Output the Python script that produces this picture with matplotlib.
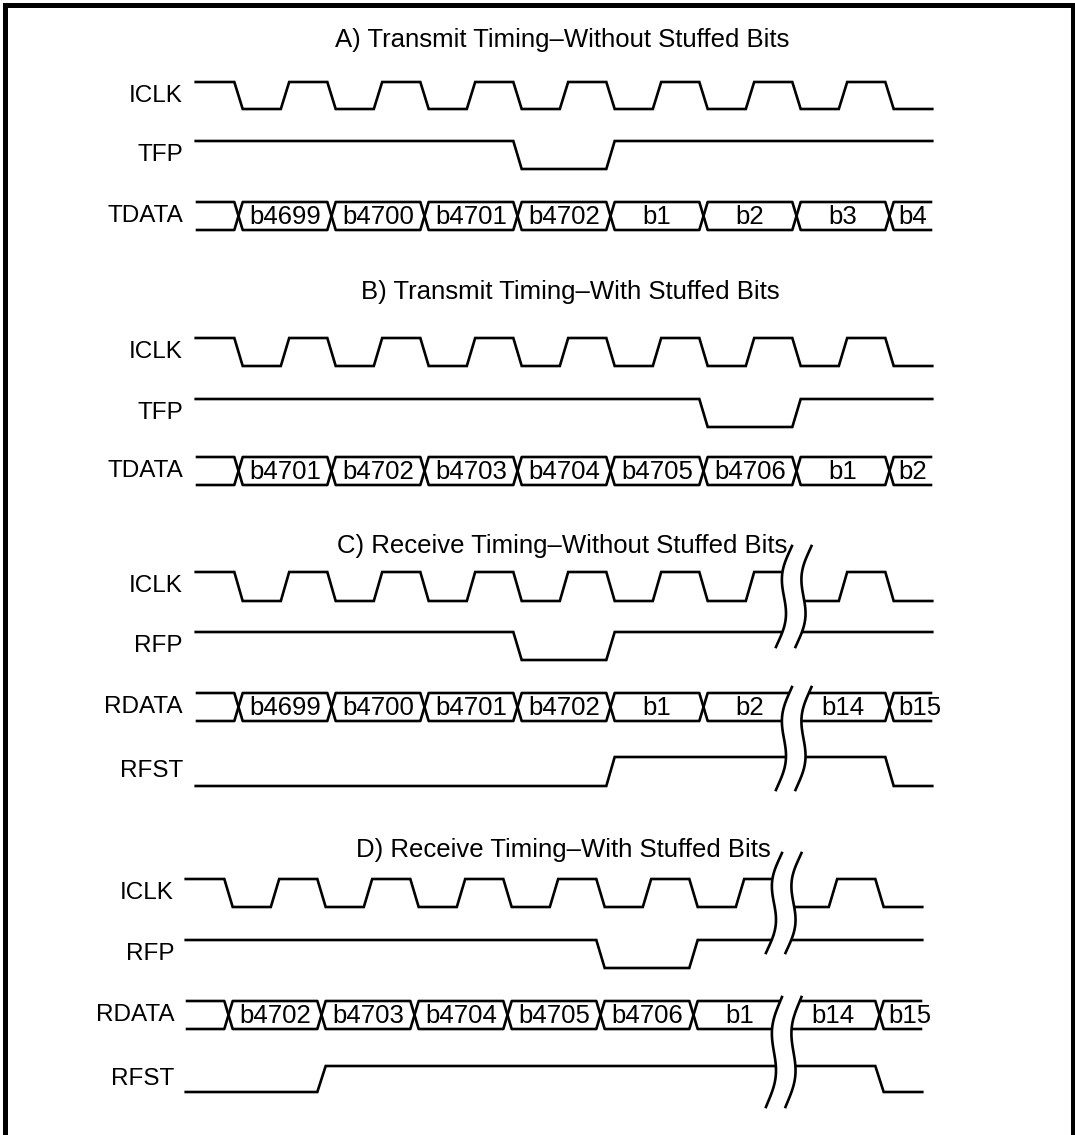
import matplotlib.pyplot as plt
import numpy as np
from matplotlib.patches import Polygon

plt.rcParams['font.family'] = ['Liberation Sans', 'DejaVu Sans']

# ── Diagram content (times in clock periods) ──────────────────────
TITLES = ['A) Transmit Timing–Without Stuffed Bits',
          'B) Transmit Timing–With Stuffed Bits',
          'C) Receive Timing–Without Stuffed Bits',
          'D) Receive Timing–With Stuffed Bits']

CLK_EDGES = [0.5, 1.0, 1.5, 2.0, 2.5, 3.0, 3.5, 4.0,
             4.5, 5.0, 5.5, 6.0, 6.5, 7.0, 7.5]      # starts high
BUS_EDGES = [0.5, 1.5, 2.5, 3.5, 4.5, 5.5, 6.5, 7.5]

TFP_A = [3.5, 4.5]          # starts high
TFP_B = [5.5, 6.5]
RFP_C = [3.5, 4.5]
RFP_D = [4.5, 5.5]
RFST_C = [4.5, 7.5]         # starts low
RFST_D = [1.5, 7.5]

TDATA_A = ['b4699', 'b4700', 'b4701', 'b4702', 'b1', 'b2', 'b3', 'b4']
TDATA_B = ['b4701', 'b4702', 'b4703', 'b4704', 'b4705', 'b4706', 'b1', 'b2']
RDATA_C = ['b4699', 'b4700', 'b4701', 'b4702', 'b1', 'b2', 'b14', 'b15']
RDATA_D = ['b4702', 'b4703', 'b4704', 'b4705', 'b4706', 'b1', 'b14', 'b15']

BREAK_T = 6.47              # where the time axis is cut in C and D

# ── Layout (pixels) ───────────────────────────────────────────────
W, H = 1075, 1135
X0, P = 192, 93             # pixel of t=0, pixels per clock period
T_START, T_END = 0.04, 7.96
EW = 0.09                   # edge width
LW = 1.9
FS_TITLE = 18.5
FS_NAME = 17.5
FS_BOX = 18.5

fig = plt.figure(figsize=(W / 100, H / 100), dpi=100)
ax = fig.add_axes([0, 0, 1, 1])
ax.set_xlim(0, W)
ax.set_ylim(H, 0)
ax.axis('off')


def px(t, dx):
    return X0 + dx + t * P


def level_signal(y_hi, y_lo, start_high, edges, dx):
    lvl = start_high
    xs, ys = [px(T_START, dx)], [y_hi if lvl else y_lo]
    for e in edges:
        xs += [px(e - EW / 2, dx), px(e + EW / 2, dx)]
        ys += [y_hi if lvl else y_lo, y_lo if lvl else y_hi]
        lvl = not lvl
    xs.append(px(T_END, dx))
    ys.append(y_hi if lvl else y_lo)
    ax.plot(xs, ys, color='black', lw=LW, solid_joinstyle='miter')


def bus(y_top, y_bot, edges, labels, dx):
    ym = (y_top + y_bot) / 2
    bounds = [T_START] + edges + [T_END]
    last = len(bounds) - 2
    for i in range(len(bounds) - 1):
        a, b = bounds[i], bounds[i + 1]
        for y in (y_top, y_bot):
            if i == 0:
                xs, ys = [px(a, dx)], [y]
            else:
                xs, ys = [px(a, dx), px(a + EW / 2, dx)], [ym, y]
            if i == last:
                xs.append(px(b, dx))
                ys.append(y)
            else:
                xs += [px(b - EW / 2, dx), px(b, dx)]
                ys += [y, ym]
            ax.plot(xs, ys, color='black', lw=LW, solid_capstyle='butt')
        if i == last:
            # last word is cut by the right edge, text starts just after the X
            ax.text(px(a + 0.09, dx), ym + 1, labels[i - 1],
                    ha='left', va='center', fontsize=FS_BOX)
        elif i > 0:
            ax.text(px((a + b) / 2, dx), ym + 1, labels[i - 1],
                    ha='center', va='center', fontsize=FS_BOX)


def cut(y0, y1, dx):
    s = np.linspace(0, 1, 60)
    wig = 8 * np.cos(np.pi * s) - 7 * np.sin(2 * np.pi * s)
    ys = y0 + s * (y1 - y0)
    xl = px(BREAK_T - 0.105, dx) + wig
    xr = px(BREAK_T + 0.105, dx) + wig
    poly = np.column_stack([np.concatenate([xl, xr[::-1]]),
                            np.concatenate([ys, ys[::-1]])])
    ax.add_patch(Polygon(poly, closed=True, facecolor='white', edgecolor='none', zorder=3))
    ax.plot(xl, ys, color='black', lw=LW, zorder=4)
    ax.plot(xr, ys, color='black', lw=LW, zorder=4)


def name(label, y, dx):
    ax.text(183 + dx, y, label, ha='right', va='center', fontsize=FS_NAME)


def title(label, x, y):
    ax.text(x, y, label, ha='center', va='center', fontsize=FS_TITLE)


# ── A ─────────────────────────────────────────────────────────────
title(TITLES[0], 562, 40)
name('ICLK', 95.5, 0)
level_signal(82, 109, True, CLK_EDGES, 0)
name('TFP', 155, 0)
level_signal(141, 169, True, TFP_A, 0)
name('TDATA', 216, 0)
bus(202, 230, BUS_EDGES, TDATA_A, 0)

# ── B ─────────────────────────────────────────────────────────────
title(TITLES[1], 570, 292)
name('ICLK', 352, 0)
level_signal(338, 366, True, CLK_EDGES, 0)
name('TFP', 413, 0)
level_signal(399, 427, True, TFP_B, 0)
name('TDATA', 471, 0)
bus(457, 485, BUS_EDGES, TDATA_B, 0)

# ── C ─────────────────────────────────────────────────────────────
title(TITLES[2], 562, 546)
name('ICLK', 586.5, 0)
level_signal(572, 601, True, CLK_EDGES, 0)
name('RFP', 646, 0)
level_signal(632, 660, True, RFP_C, 0)
name('RDATA', 707, 0)
bus(693, 721, BUS_EDGES, RDATA_C, 0)
name('RFST', 771, 0)
level_signal(757, 786, False, RFST_C, 0)
cut(546, 647, 0)
cut(687, 790, 0)

# ── D ─────────────────────────────────────────────────────────────
title(TITLES[3], 563, 850)
name('ICLK', 893, -9)
level_signal(879, 907, True, CLK_EDGES, -10)
name('RFP', 954, -9)
level_signal(940, 968, True, RFP_D, -10)
name('RDATA', 1015, -9)
bus(1001, 1029, BUS_EDGES, RDATA_D, -10)
name('RFST', 1079, -9)
level_signal(1066, 1092, False, RFST_D, -10)
cut(853, 953, -10)
cut(997, 1107, -10)

# ── Frame ─────────────────────────────────────────────────────────
ax.plot([4.5, 4.5, 1072.5, 1072.5], [H + 5, 5, 5, H + 5], color='black', lw=3.6,
        solid_joinstyle='miter', clip_on=False)

fig.savefig('out.png', dpi=100)
